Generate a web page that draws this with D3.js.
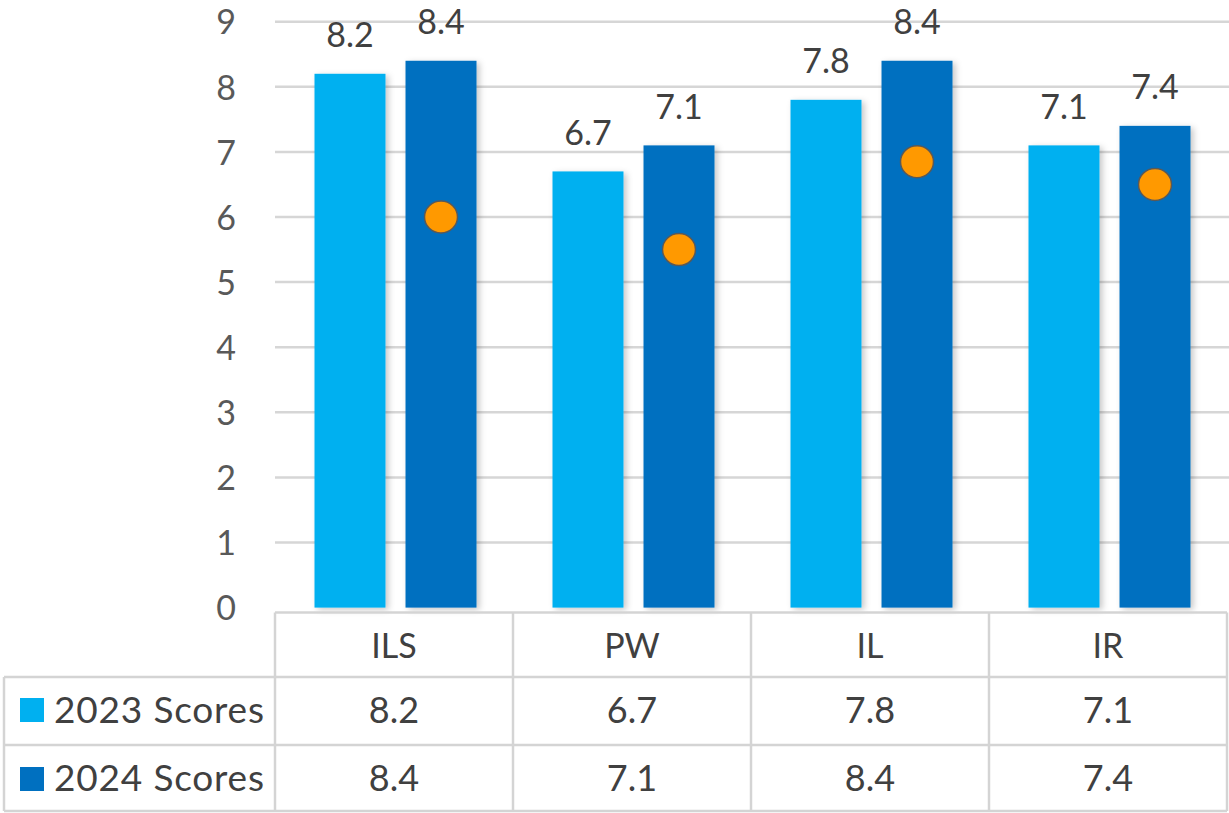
<!DOCTYPE html>
<html>
<head>
<meta charset="utf-8">
<script src="https://cdn.jsdelivr.net/npm/d3@7"></script>
<style>
  html, body { margin: 0; padding: 0; background: #ffffff; }
  svg { display: block; }
  text { font-family: Lato, "Open Sans", sans-serif; }
</style>
</head>
<body>
<svg id="chart" width="1229" height="813"></svg>
<script>
const categories = ["ILS", "PW", "IL", "IR"];
const seriesNames = ["2023 Scores", "2024 Scores"];
const scores2023 = [8.2, 6.7, 7.8, 7.1];
const scores2024 = [8.4, 7.1, 8.4, 7.4];
const markerValues = [6.0, 5.5, 6.85, 6.5];
const yTicks = [0, 1, 2, 3, 4, 5, 6, 7, 8, 9];

const seriesValues = [scores2023, scores2024];
const seriesColors = ["#00B0F0", "#0070C0"];

const svg = d3.select("#chart");

const plotLeft = 275, plotRight = 1227;
const y = d3.scaleLinear().domain([0, 9]).range([607.6, 21.7]);
const x = d3.scaleBand().domain(categories).range([plotLeft, plotRight]).paddingInner(0).paddingOuter(0);
const xInner = d3.scaleBand().domain(seriesNames).range([39.5, 201.5]).paddingInner(0.22).paddingOuter(0);

// shadow filter
const defs = svg.append("defs");
const f = defs.append("filter").attr("id", "shadow").attr("x", "-20%").attr("y", "-5%").attr("width", "150%").attr("height", "115%");
f.append("feDropShadow").attr("dx", 3).attr("dy", 2).attr("stdDeviation", 3).attr("flood-color", "#000").attr("flood-opacity", 0.22);

// gridlines
svg.append("g").selectAll("line").data(yTicks.filter(d => d > 0)).join("line")
  .attr("x1", plotLeft).attr("x2", 1229)
  .attr("y1", d => y(d)).attr("y2", d => y(d))
  .attr("stroke", "#d6d6d6").attr("stroke-width", 2.5);

// y axis labels
const yAxis = d3.axisLeft(y).tickValues(yTicks).tickSize(0).tickPadding(0).tickFormat(d3.format("d"));
const yg = svg.append("g").attr("transform", "translate(236,0)").call(yAxis);
yg.select(".domain").remove();
yg.selectAll("text").attr("font-size", 34).attr("fill", "#595959")
  .attr("font-family", "Lato, 'Open Sans', sans-serif").attr("dy", "0.36em");

// bars
const groups = svg.append("g").selectAll("g").data(categories).join("g")
  .attr("transform", d => `translate(${x(d)},0)`);

seriesNames.forEach((s, si) => {
  groups.append("rect")
    .attr("x", xInner(s))
    .attr("width", xInner.bandwidth())
    .attr("y", (d, i) => y(seriesValues[si][i]))
    .attr("height", (d, i) => y(0) - y(seriesValues[si][i]))
    .attr("fill", seriesColors[si])
    .attr("filter", "url(#shadow)");
  groups.append("text")
    .attr("x", xInner(s) + xInner.bandwidth() / 2)
    .attr("y", (d, i) => y(seriesValues[si][i]) - 26.5)
    .attr("text-anchor", "middle")
    .attr("font-size", 34)
    .attr("fill", "#404040")
    .text((d, i) => d3.format(".1f")(seriesValues[si][i]));
});

// orange markers on 2024 bars
groups.append("ellipse")
  .attr("cx", xInner(seriesNames[1]) + xInner.bandwidth() / 2)
  .attr("cy", (d, i) => y(markerValues[i]))
  .attr("rx", 16.5).attr("ry", 16)
  .attr("fill", "#FF9900")
  .attr("stroke", "#595959").attr("stroke-width", 1.5);

// data table
const tableTop = 612.5, headBottom = 677, row1Bottom = 745, tableBottom = 811;
const tableLeft = 4;
const lineColor = "#d4d4d4", lw = 2.5;
const tg = svg.append("g");

tg.append("line").attr("x1", plotLeft).attr("x2", plotRight).attr("y1", tableTop).attr("y2", tableTop)
  .attr("stroke", lineColor).attr("stroke-width", lw);
[headBottom, row1Bottom, tableBottom].forEach(yy => {
  tg.append("line").attr("x1", tableLeft).attr("x2", plotRight).attr("y1", yy).attr("y2", yy)
    .attr("stroke", lineColor).attr("stroke-width", lw);
});
tg.append("line").attr("x1", tableLeft).attr("x2", tableLeft).attr("y1", headBottom).attr("y2", tableBottom)
  .attr("stroke", lineColor).attr("stroke-width", lw);
const vx = categories.map(c => x(c)).concat([plotRight]);
tg.selectAll("line.v").data(vx).join("line").attr("class", "v")
  .attr("x1", d => d).attr("x2", d => d).attr("y1", tableTop).attr("y2", tableBottom)
  .attr("stroke", lineColor).attr("stroke-width", lw);

// header labels
tg.selectAll("text.cat").data(categories).join("text").attr("class", "cat")
  .attr("x", d => x(d) + x.bandwidth() / 2)
  .attr("y", 658)
  .attr("text-anchor", "middle").attr("font-size", 34).attr("fill", "#404040")
  .text(d => d);

// rows
const rowBaselines = [723, 791];
const rowCenters = [710, 779];
seriesNames.forEach((s, si) => {
  tg.append("rect").attr("x", 20).attr("y", rowCenters[si] - 12)
    .attr("width", 24).attr("height", 24).attr("fill", seriesColors[si]);
  tg.append("text").attr("x", 54).attr("y", rowBaselines[si])
    .attr("font-size", 37).attr("fill", "#404040")
    .attr("textLength", 210).attr("lengthAdjust", "spacing")
    .text(s);
  tg.selectAll("text.v" + si).data(categories).join("text").attr("class", "v" + si)
    .attr("x", d => x(d) + x.bandwidth() / 2)
    .attr("y", rowBaselines[si])
    .attr("text-anchor", "middle").attr("font-size", 36).attr("fill", "#404040")
    .text((d, i) => d3.format(".1f")(seriesValues[si][i]));
});
</script>
</body>
</html>
